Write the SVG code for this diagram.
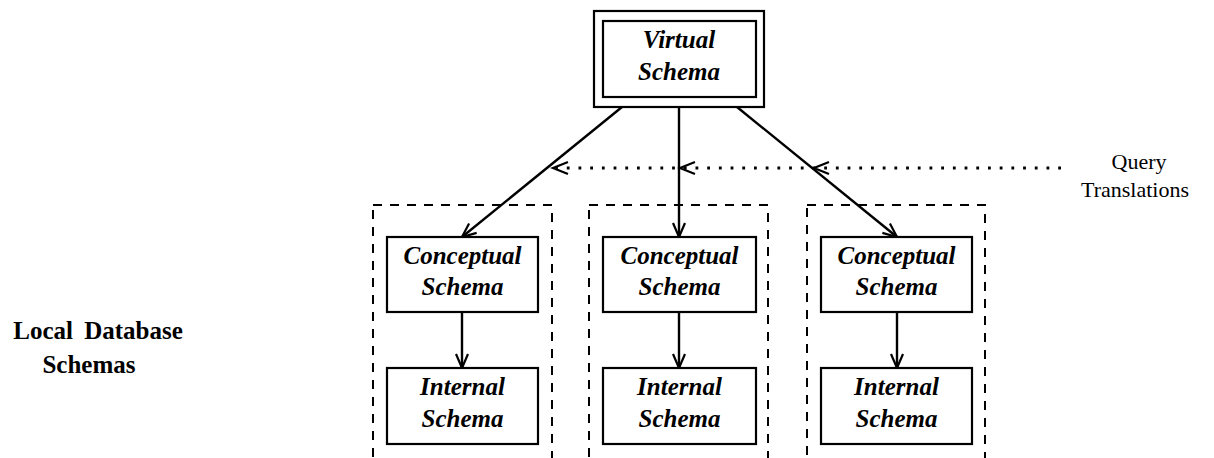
<svg xmlns="http://www.w3.org/2000/svg" width="1214" height="458" viewBox="0 0 1214 458">
  <style>
    .box { fill: #fff; stroke: #000; stroke-width: 2.2; }
    .group { fill: none; stroke: #000; stroke-width: 2; stroke-dasharray: 9 8; }
    .link { fill: none; stroke: #000; stroke-width: 2.4; }
    .dots { fill: none; stroke: #000; stroke-width: 2.8; stroke-dasharray: 2.8 8.9; }
    .chev { fill: none; stroke: #000; stroke-width: 2.2; stroke-linejoin: miter; }
    .lbl { font-family: "Liberation Serif", "Times New Roman", serif; font-style: italic; font-weight: bold; font-size: 25px; text-anchor: middle; fill: #000; }
    .side { font-family: "Liberation Serif", "Times New Roman", serif; font-weight: bold; font-size: 25px; text-anchor: middle; fill: #000; }
    .note { font-family: "Liberation Serif", "Times New Roman", serif; font-size: 22px; text-anchor: middle; fill: #000; }
  </style>
  <defs>
    <marker id="open" viewBox="-16 -8 18 16" refX="0" refY="0" markerWidth="18" markerHeight="16" markerUnits="userSpaceOnUse" orient="auto">
      <path d="M -14 -6 L 0 0 L -14 6" class="chev"/>
    </marker>
  </defs>

  <!-- dashed local database groups -->
  <g id="local-groups">
    <rect class="group" x="373" y="205" width="179" height="270"/>
    <rect class="group" x="589" y="205" width="179" height="270"/>
    <rect class="group" x="807" y="205" width="178" height="270"/>
  </g>

  <!-- connectors -->
  <g id="connectors">
    <line class="link" x1="622" y1="107" x2="462" y2="237" marker-end="url(#open)"/>
    <line class="link" x1="679" y1="107" x2="679" y2="237" marker-end="url(#open)"/>
    <line class="link" x1="737" y1="107" x2="897" y2="237" marker-end="url(#open)"/>
    <line class="link" x1="462" y1="312" x2="462" y2="368" marker-end="url(#open)"/>
    <line class="link" x1="679" y1="312" x2="679" y2="368" marker-end="url(#open)"/>
    <line class="link" x1="897" y1="312" x2="897" y2="368" marker-end="url(#open)"/>
    <!-- query translation flow -->
    <line class="dots" x1="1061" y1="168" x2="556" y2="168"/>
    <path class="chev" d="M 568 162 L 553 168 L 568 174"/>
    <path class="chev" d="M 695 162 L 680 168 L 695 174"/>
    <path class="chev" d="M 829 162 L 814 168 L 829 174"/>
  </g>

  <g id="virtual-schema">
    <rect class="box" x="594" y="11" width="170" height="96"/>
    <rect class="box" x="603" y="21" width="153" height="76"/>
    <text class="lbl" x="679" y="48">Virtual</text>
    <text class="lbl" x="679" y="80">Schema</text>
  </g>

  <g id="conceptual-1">
    <rect class="box" x="387" y="237" width="151" height="75"/>
    <text class="lbl" x="462.5" y="264">Conceptual</text>
    <text class="lbl" x="462.5" y="295">Schema</text>
  </g>
  <g id="internal-1">
    <rect class="box" x="387" y="368" width="151" height="76"/>
    <text class="lbl" x="462.5" y="395">Internal</text>
    <text class="lbl" x="462.5" y="427">Schema</text>
  </g>

  <g id="conceptual-2">
    <rect class="box" x="603" y="237" width="153" height="75"/>
    <text class="lbl" x="679.5" y="264">Conceptual</text>
    <text class="lbl" x="679.5" y="295">Schema</text>
  </g>
  <g id="internal-2">
    <rect class="box" x="603" y="368" width="153" height="76"/>
    <text class="lbl" x="679.5" y="395">Internal</text>
    <text class="lbl" x="679.5" y="427">Schema</text>
  </g>

  <g id="conceptual-3">
    <rect class="box" x="821" y="237" width="151" height="75"/>
    <text class="lbl" x="896.5" y="264">Conceptual</text>
    <text class="lbl" x="896.5" y="295">Schema</text>
  </g>
  <g id="internal-3">
    <rect class="box" x="821" y="368" width="151" height="76"/>
    <text class="lbl" x="896.5" y="395">Internal</text>
    <text class="lbl" x="896.5" y="427">Schema</text>
  </g>

  <g id="label-local">
    <text class="side" x="98" y="339" word-spacing="5">Local Database</text>
    <text class="side" x="89" y="373">Schemas</text>
  </g>

  <g id="label-query">
    <text class="note" x="1139" y="169">Query</text>
    <text class="note" x="1135" y="197">Translations</text>
  </g>
</svg>
